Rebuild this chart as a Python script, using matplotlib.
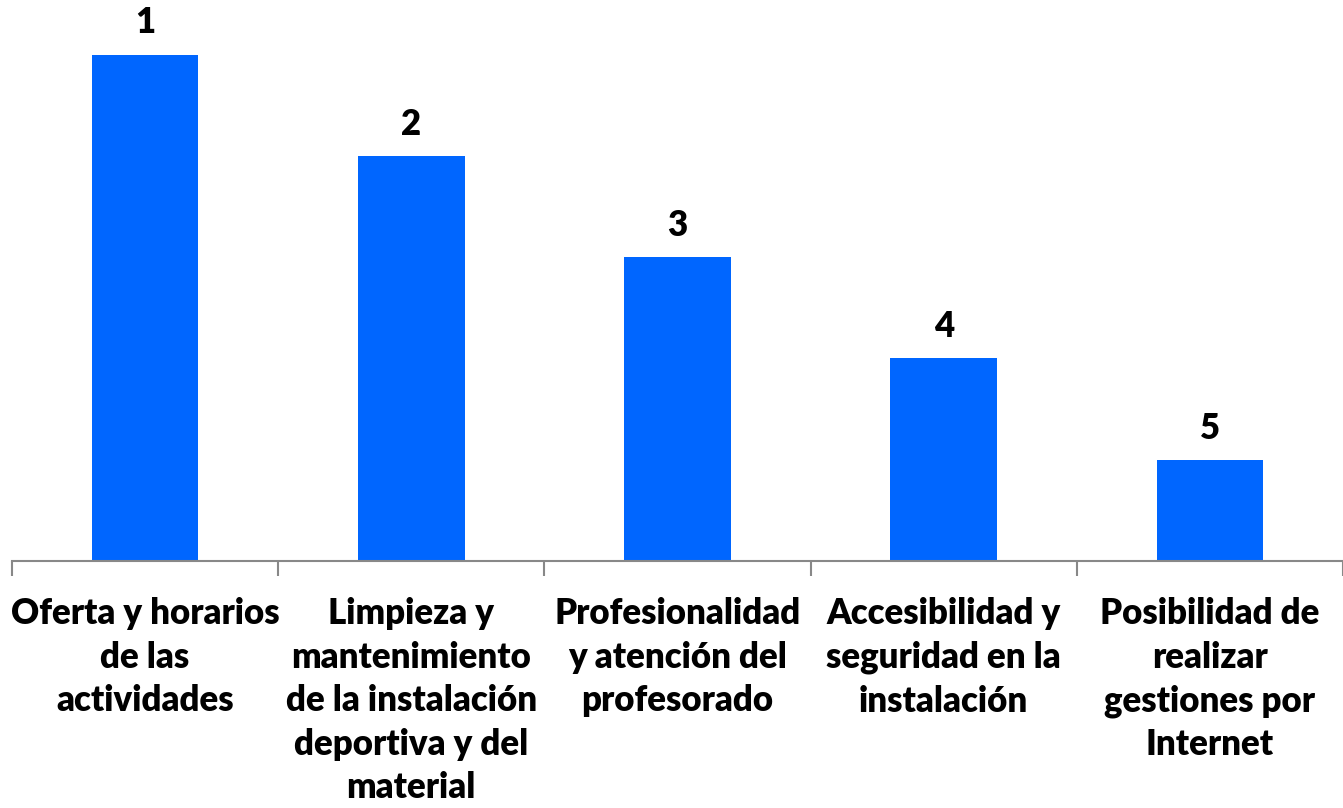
import numpy as np
import matplotlib.pyplot as plt

categories = [
    "Oferta y horarios\nde las\nactividades",
    "Limpieza y\nmantenimiento\nde la instalación\ndeportiva y del\nmaterial",
    "Profesionalidad\ny atención del\nprofesorado",
    "Accesibilidad y\nseguridad en la\ninstalación",
    "Posibilidad de\nrealizar\ngestiones por\nInternet",
]
scores = [5, 4, 3, 2, 1]
ranks = ["1", "2", "3", "4", "5"]

plt.rcParams['font.family'] = ['Lato', 'DejaVu Sans']

fig = plt.figure(figsize=(13.43, 8.08), dpi=100)
ax = fig.add_axes([12 / 1343, 1 - 561 / 808, 1 - 12 / 1343, 561 / 808])

x = np.arange(len(categories))
bars = ax.bar(x, scores, width=0.4, color='#0066FF')

for b, r in zip(bars, ranks):
    ax.text(b.get_x() + b.get_width() / 2, b.get_height() + 0.15, r,
            ha='center', va='bottom', fontsize=25, fontweight='heavy')

ax.set_xlim(-0.5, len(categories) - 0.5)
ax.set_ylim(0, 5.54)

for s in ['top', 'right', 'left']:
    ax.spines[s].set_visible(False)
ax.spines['bottom'].set_color('#888888')
ax.spines['bottom'].set_linewidth(1.5)
ax.set_yticks([])

ax.set_xticks(x)
ax.set_xticklabels(categories, fontsize=25, fontweight='heavy', linespacing=1.39)
ax.tick_params(axis='x', which='major', length=0, pad=26)
ax.set_xticks(np.arange(-0.5, len(categories)), minor=True)
ax.tick_params(axis='x', which='minor', length=11, width=1.5, color='#888888')

fig.savefig('out.png', dpi=100)
